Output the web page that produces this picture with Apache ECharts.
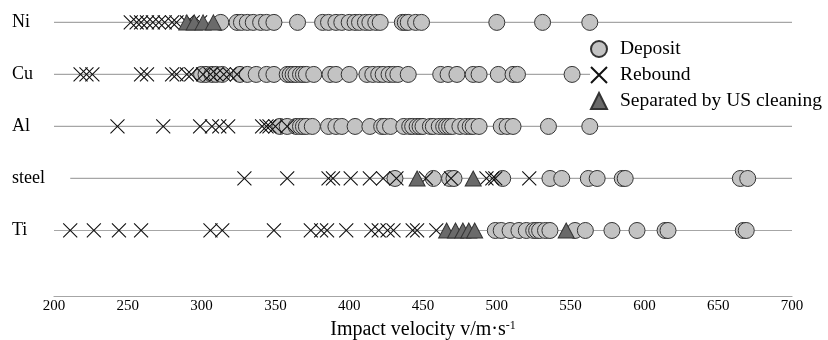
<!DOCTYPE html>
<html>
<head>
<meta charset="utf-8">
<script src="https://cdn.jsdelivr.net/npm/echarts@6/dist/echarts.min.js"></script>
<style>
  html, body { margin: 0; padding: 0; background: #fff; }
  #chart { width: 828px; height: 340px; }
</style>
</head>
<body>
<div id="chart"></div>
<script>
// rows, bottom to top (y value = index + 1)
const rows = ['Ti', 'steel', 'Al', 'Cu', 'Ni']
const rowStart = [200, 211, 200, 200, 200]
const rowEnd = [700, 700, 700, 700, 700]
const xTicks = [200, 250, 300, 350, 400, 450, 500, 550, 600, 650, 700]

// Ni
const niDeposit = [313, 324, 327, 331, 335, 340, 344, 349, 365, 382, 386, 391, 395, 400, 404, 407, 411, 414, 418, 421, 436, 438, 440, 445, 449, 500, 531, 563]
const niRebound = [252, 256, 259, 263, 267, 271, 275, 280, 283, 290, 294, 299]
const niSeparated = [290, 295, 301, 308]
// Cu
const cuDeposit = [300, 303, 307, 310, 314, 326, 331, 337, 344, 349, 358, 360, 362, 364, 367, 369, 371, 376, 387, 391, 400, 412, 416, 420, 423, 427, 430, 433, 440, 462, 467, 473, 484, 488, 501, 511, 514, 551]
const cuRebound = [218, 222, 226, 259, 263, 280, 283, 290, 293, 301, 306, 310, 315, 319, 324]
const cuSeparated = []
// Al
const alDeposit = [353, 358, 364, 367, 369, 371, 375, 386, 391, 395, 404, 414, 422, 424, 428, 437, 441, 443, 446, 448, 450, 455, 457, 461, 464, 466, 468, 470, 475, 479, 482, 484, 488, 503, 507, 511, 535, 563]
const alRebound = [243, 274, 299, 307, 312, 318, 341, 344, 346, 350, 358]
const alSeparated = []
// steel
const steelDeposit = [431, 457, 468, 471, 504, 536, 544, 562, 568, 585, 587, 665, 670]
const steelRebound = [329, 358, 386, 389, 401, 414, 423, 432, 452, 469, 493, 497, 499, 522]
const steelSeparated = [446, 484]
// Ti
const tiDeposit = [499, 503, 509, 515, 520, 525, 527, 529, 533, 536, 553, 560, 578, 595, 614, 616, 667, 669]
const tiRebound = [211, 227, 244, 259, 306, 314, 349, 374, 381, 385, 398, 415, 420, 426, 430, 443, 446, 459]
const tiSeparated = [466, 472, 477, 481, 485, 547]

const font = "'Liberation Serif', 'Times New Roman', serif"

// 按行拼成 [x, y]
function toPoints(lists) {
  let out = []
  lists.forEach((list, i) => {
    list.forEach(v => out.push([v, i + 1]))
  })
  return out
}

const deposit = toPoints([tiDeposit, steelDeposit, alDeposit, cuDeposit, niDeposit])
const rebound = toPoints([tiRebound, steelRebound, alRebound, cuRebound, niRebound])
const separated = toPoints([tiSeparated, steelSeparated, alSeparated, cuSeparated, niSeparated])

// 每行的灰色横线
const rowLines = rows.map((name, i) => ({
  name: 'row-' + name,
  type: 'line',
  z: 1,
  silent: true,
  symbol: 'none',
  lineStyle: { color: '#a6a6a6', width: 1.2 },
  data: [[rowStart[i], i + 1], [rowEnd[i], i + 1]]
}))

const myChart = echarts.init(document.getElementById('chart'))
myChart.setOption({
  animation: false,
  textStyle: { fontFamily: font },
  grid: { left: 54, right: 36, top: 12, bottom: 57.5, outerBoundsMode: 'none', containLabel: false },
  legend: {
    data: ['Deposit', 'Rebound', 'Separated by US cleaning'],
    orient: 'vertical',
    left: 590,
    top: 37,
    padding: [2, 4, 2, 0],
    backgroundColor: '#fff',
    itemWidth: 16,
    itemHeight: 16,
    itemGap: 6,
    textStyle: { fontFamily: font, fontSize: 19.5, lineHeight: 20, color: '#000', padding: [0, 0, 0, 8] }
  },
  xAxis: {
    type: 'value',
    min: 200,
    max: 700,
    interval: 50,
    offset: 13.5,
    name: '{a|Impact velocity v/m·s}{b|-1}',
    nameLocation: 'middle',
    nameGap: 24,
    nameTextStyle: {
      rich: {
        a: { fontFamily: font, fontSize: 20, color: '#000' },
        b: { fontFamily: font, fontSize: 12, color: '#000', verticalAlign: 'top', padding: [0, 0, 7, 0] }
      }
    },
    axisLine: { onZero: false, lineStyle: { color: '#a6a6a6', width: 1.2 } },
    axisTick: { show: false },
    splitLine: { show: false },
    axisLabel: {
      fontFamily: font,
      fontSize: 15,
      color: '#000',
      margin: 3,
      formatter: v => (xTicks.includes(v) ? String(v) : '')
    }
  },
  yAxis: {
    type: 'value',
    min: 0,
    max: 5.2,
    interval: 1,
    axisLine: { show: false },
    axisTick: { show: false },
    splitLine: { show: false },
    axisLabel: {
      fontFamily: font,
      fontSize: 18,
      color: '#000',
      align: 'left',
      margin: 42,
      formatter: v => rows[v - 1] || ''
    }
  },
  series: [
    ...rowLines,
    {
      name: 'Deposit',
      type: 'scatter',
      z: 2,
      symbol: 'circle',
      symbolSize: 16,
      itemStyle: { color: '#c3c3c3', borderColor: '#333', borderWidth: 1, opacity: 1 },
      data: deposit
    },
    {
      name: 'Rebound',
      type: 'scatter',
      z: 3,
      symbol: 'path://M0,0L10,10M10,0L0,10',
      symbolSize: 14,
      itemStyle: { color: 'rgba(0,0,0,0)', borderColor: '#111', borderWidth: 1.1, opacity: 1 },
      data: rebound
    },
    {
      name: 'Separated by US cleaning',
      type: 'scatter',
      z: 4,
      symbol: 'triangle',
      symbolSize: [16, 15],
      itemStyle: { color: '#6a6a6a', borderColor: '#333', borderWidth: 1, opacity: 1 },
      data: separated
    }
  ]
})
</script>
</body>
</html>
